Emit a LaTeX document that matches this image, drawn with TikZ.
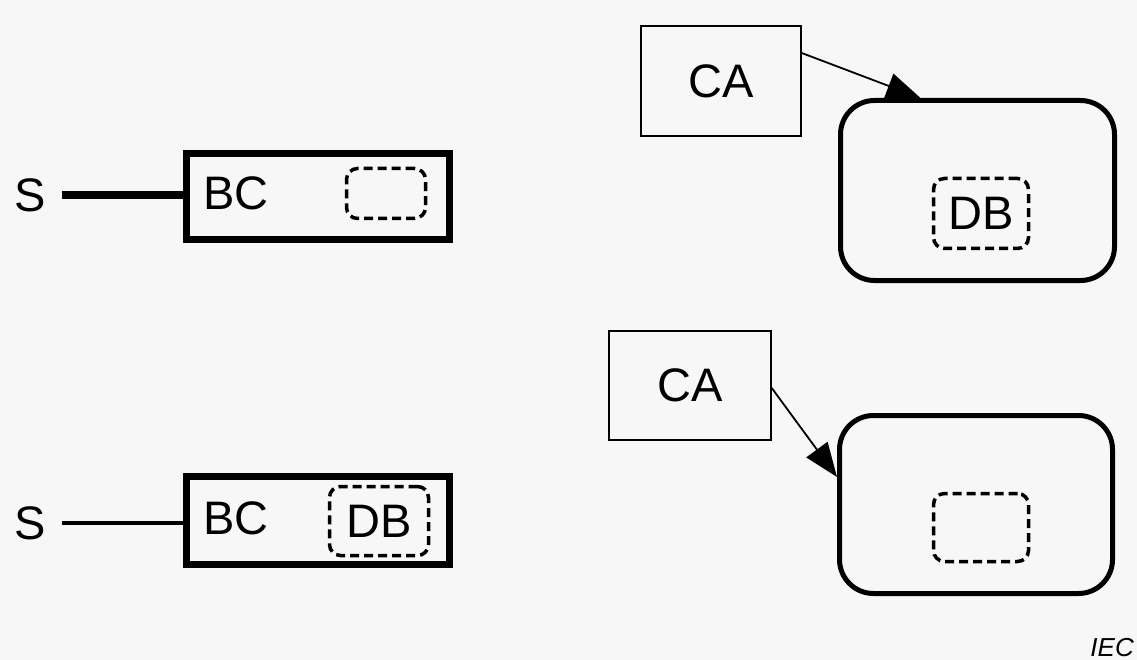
\documentclass[tikz,border=0pt]{standalone}
\usepackage{fontspec}
\setmainfont{Liberation Sans}
\usetikzlibrary{arrows.meta,positioning}

\tikzset{
  big/.style={font=\fontsize{47}{56}\selectfont},
  bcbox/.style={draw, line width=7pt, minimum width=263pt, inner sep=0pt},
  cabox/.style={draw, line width=1.5pt, big, inner sep=0pt},
  rbox/.style={draw, line width=5pt, rounded corners=34pt, inner sep=0pt},
  dbbox/.style={draw, line width=3.5pt, dash pattern=on 9pt off 5pt, rounded corners=11pt, big, inner sep=0pt},
  link/.style={line width=1.8pt, -{Triangle[length=34pt,width=26pt]}}
}

\begin{document}
\begin{tikzpicture}[x=1pt,y=-1pt]
    \fill[gray!6] (0,0) rectangle (1137,660);
    \useasboundingbox (0,0) rectangle (1137,660);
    % left column
    \node[big, inner sep=0pt, inner xsep=16pt] (s1) at (30,195) {S};
    \node[bcbox, minimum height=86pt] (bc1) at (318,196.5) {};
    \node[big, inner sep=0pt, anchor=west] (bc1l) at ([xshift=20pt,yshift=3pt]bc1.west) {BC};
    \node[dbbox, minimum width=79pt, minimum height=50pt] (db1) at (386,193.5) {};
    \node[big, inner sep=0pt, inner xsep=16pt] (s2) at (30,523) {S};
    \node[bcbox, minimum height=88pt] (bc2) at (318,520.5) {};
    \node[big, inner sep=0pt, anchor=west] (bc2l) at ([xshift=20pt,yshift=2pt]bc2.west) {BC};
    \node[dbbox, minimum width=99pt, minimum height=69pt] (db2) at (379,521) {DB};
    % right column
    \node[cabox, minimum width=160pt, minimum height=110pt] (ca1) at (721,81) {CA};
    \node[rbox, minimum width=274pt, minimum height=180pt] (rb1) at (977.5,190.5) {};
    \node[dbbox, minimum width=95pt, minimum height=70pt] (db3) at (981,213.5) {DB};
    \node[cabox, minimum width=162pt, minimum height=109pt] (ca2) at (690,385.5) {CA};
    \node[rbox, minimum width=273pt, minimum height=178pt] (rb2) at (976,504.5) {};
    \node[dbbox, minimum width=95pt, minimum height=68pt] (db4) at (981,527.5) {};
    \node[font=\fontsize{26}{30}\selectfont\itshape, anchor=base east, inner sep=0pt] (iec) at (1134,656) {IEC};
    % connectors
    \draw[line width=7.5pt] (s1.east) -- (s1.east -| bc1.west);
    \draw[line width=4pt] (s2.east) -- (s2.east -| bc2.west);
    \draw[link] ([yshift=28pt]ca1.east) -- ([xshift=-57pt]rb1.north);
    \draw[link] ([yshift=-2.5pt]ca2.east) -- ([yshift=27.5pt]rb2.west);
\end{tikzpicture}
\end{document}
